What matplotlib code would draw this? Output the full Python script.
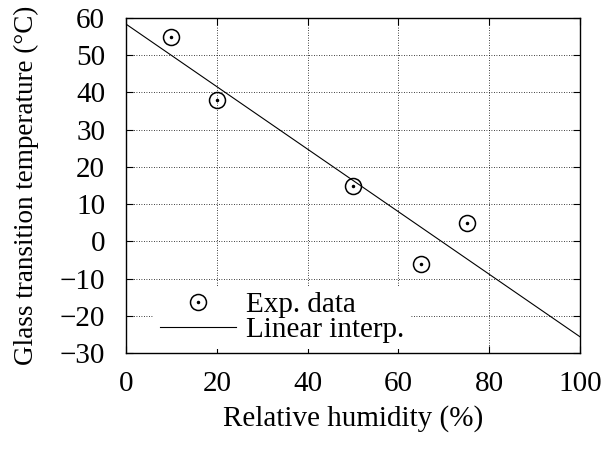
import numpy as np
import matplotlib
matplotlib.use("Agg")
import matplotlib.pyplot as plt

# measured points
humidity = [10, 20, 50, 65, 75]
tg = [55, 38, 15, -6, 5]

x_ticks = [0, 20, 40, 60, 80, 100]
y_ticks = [-30, -20, -10, 0, 10, 20, 30, 40, 50, 60]

plt.rcParams["font.family"] = ["Liberation Serif", "DejaVu Serif"]
plt.rcParams["font.size"] = 21

slope, intercept = np.polyfit(humidity, tg, 1)
xfit = np.array([0, 100])

fig = plt.figure(figsize=(6.07, 4.5), dpi=100)
ax = fig.add_axes([126 / 607, 1 - 353 / 450, 454 / 607, 335 / 450])

ring, = ax.plot(humidity, tg, linestyle="none", marker="o", markersize=11.5,
                markerfacecolor="none", markeredgecolor="black",
                markeredgewidth=1.1)
dot, = ax.plot(humidity, tg, linestyle="none", marker="o", markersize=1.5,
               color="black")
fit, = ax.plot(xfit, intercept + slope * xfit, color="black", lw=0.8)

ax.set_xlim(0, 100)
ax.set_ylim(-30, 60)
ax.set_xticks(x_ticks)
ax.set_yticks(y_ticks)
ax.set_yticklabels([str(v).replace("-", "\u2212") for v in y_ticks])
ax.tick_params(direction="in", length=5, width=0.8, top=True, right=True)
ax.tick_params(axis="y", pad=15)
ax.tick_params(axis="x", pad=13)
ax.grid(True, linestyle=(0, (1, 2)), color="black", linewidth=0.6)
for s in ax.spines.values():
    s.set_linewidth(1.0)

ax.set_xlabel("Relative humidity (%)", labelpad=6)
ax.set_ylabel("Glass transition temperature (\u00b0C)", fontsize=19.5,
              labelpad=15)

leg = ax.legend([(ring, dot), fit], ["Exp. data", "Linear interp."],
                loc="lower left", bbox_to_anchor=(0.062, 0.013),
                frameon=True, fancybox=False, handlelength=2.6,
                labelspacing=-0.05, borderaxespad=0, handletextpad=0.35,
                borderpad=0.2)
leg.get_frame().set_edgecolor("none")
leg.get_frame().set_facecolor("white")
leg.get_frame().set_alpha(1)

fig.savefig("out.png", dpi=100)
